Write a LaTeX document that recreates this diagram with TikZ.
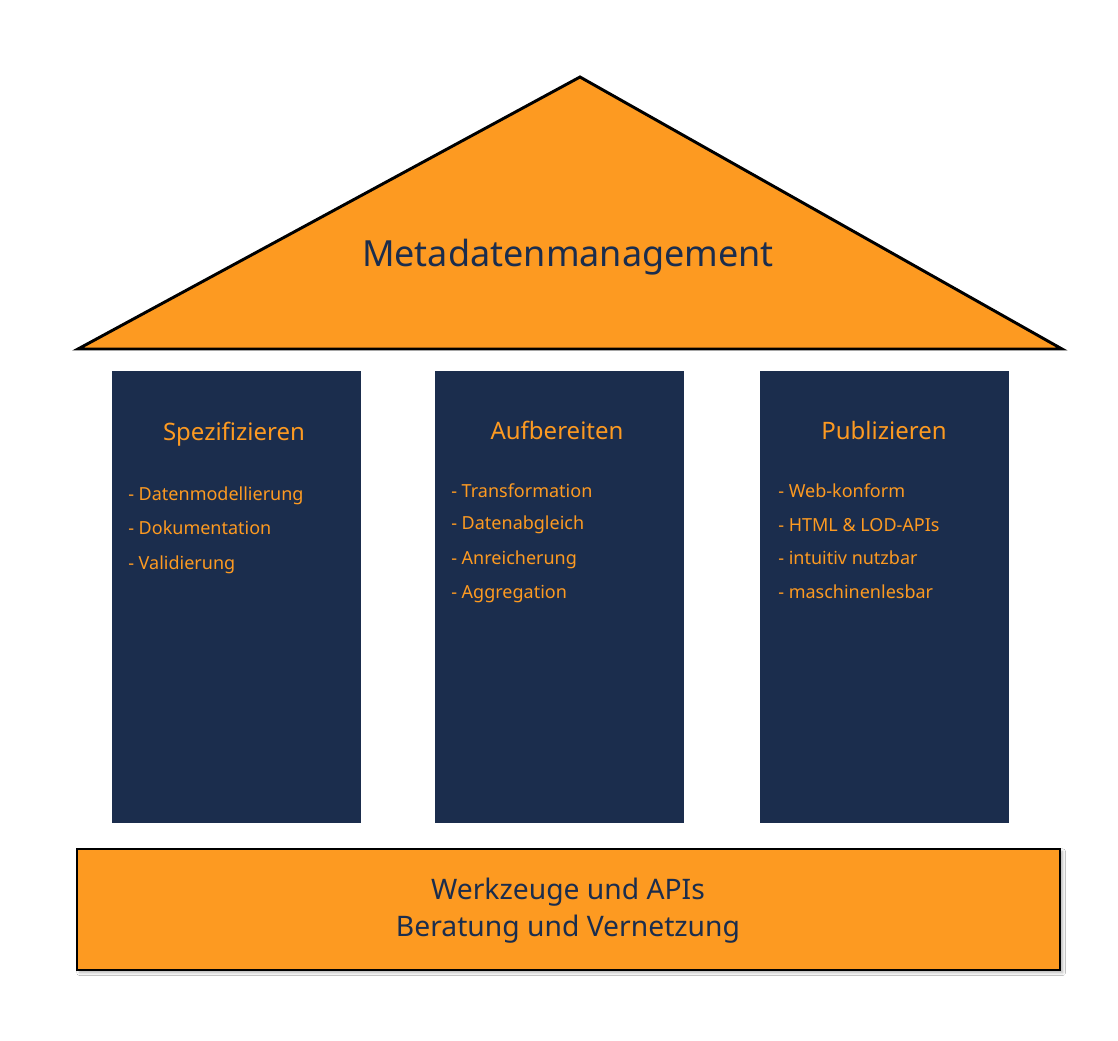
\documentclass[tikz,border=0pt]{standalone}
\usepackage{fontspec}
\setmainfont{Noto Sans}
\usetikzlibrary{shadows.blur}
\definecolor{navy}{HTML}{1B2D4D}
\definecolor{orng}{HTML}{FD9A21}
\begin{document}
\begin{tikzpicture}[x=0.75pt,y=-0.75pt,
  pillar/.style={fill=navy,draw=none},
  ptitle/.style={text=orng,font=\fontsize{18}{22}\selectfont,inner sep=0pt},
  pitem/.style={text=orng,font=\fontsize{13.5}{16}\selectfont,inner sep=0pt,anchor=base west},
  roofline/.style={line width=2.2pt,draw=black,line join=miter}]
\useasboundingbox (0,0) rectangle (1118,1040);
\fill[white] (0,0) rectangle (1118,1040);
% roof
\coordinate (rl) at (78,349);
\coordinate (rt) at (580,77);
\coordinate (rr) at (1062,349);
\filldraw[fill=orng,roofline] (rl) -- (rt) -- (rr) -- cycle;
\node[text=navy,font=\fontsize{27}{31}\selectfont,inner sep=0pt] (roof) at (568,257) {Metadatenmanagement};
% pillars
\fill[pillar] (112,371) rectangle (361,823);
\fill[pillar] (435,371) rectangle (684,823);
\fill[pillar] (760,371) rectangle (1009,823);
\node[ptitle] (t1) at (234,434) {Spezifizieren};
\node[pitem] (a1) at (128,500) {- Datenmodellierung};
\node[pitem] (a2) at (128,534) {- Dokumentation};
\node[pitem] (a3) at (128,569) {- Validierung};
\node[ptitle] (t2) at (557,430) {Aufbereiten};
\node[pitem] (b1) at (451,497) {- Transformation};
\node[pitem] (b2) at (451,529) {- Datenabgleich};
\node[pitem] (b3) at (451,564) {- Anreicherung};
\node[pitem] (b4) at (451,598) {- Aggregation};
\node[ptitle] (t3) at (884,430) {Publizieren};
\node[pitem] (c1) at (778,497) {- Web-konform};
\node[pitem] (c2) at (778,531) {- HTML \& LOD-APIs};
\node[pitem] (c3) at (778,564) {- intuitiv nutzbar};
\node[pitem] (c4) at (778,598) {- maschinenlesbar};
% base
\filldraw[fill=orng,draw=black,line width=2.2pt,blur shadow={shadow xshift=2pt,shadow yshift=-2pt,shadow blur steps=5,shadow opacity=30}] (77,849) rectangle (1060,970);
\node[text=navy,font=\fontsize{21.2}{27.8}\selectfont,align=center,inner sep=0pt] (base) at (568,911) {Werkzeuge und APIs\\Beratung und Vernetzung};
\end{tikzpicture}
\end{document}
